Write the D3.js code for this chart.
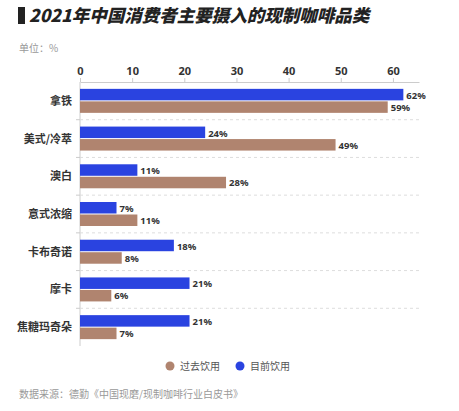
<!DOCTYPE html>
<html><head><meta charset="utf-8">
<script src="https://cdn.jsdelivr.net/npm/d3@7"></script>
<style>body{margin:0;background:#fff;font-family:"Noto Sans CJK SC","Noto Sans",sans-serif;}</style>
</head><body><svg></svg>
<script>
const width = 459, height = 411;
const categories = ["拿铁", "美式/冷萃", "澳白", "意式浓缩", "卡布奇诺", "摩卡", "焦糖玛奇朵"];
const current = [62, 24, 11, 7, 18, 21, 21];
const past = [59, 49, 28, 11, 8, 6, 7];
const ticks = [0, 10, 20, 30, 40, 50, 60];
const blue = "#2a43e0", brown = "#b0846f";

const svg = d3.select("svg").attr("width", width).attr("height", height);

svg.append("rect").attr("x", 18).attr("y", 7).attr("width", 7).attr("height", 17).attr("fill", "#222");
svg.append("text").attr("x", 29).attr("y", 22).text("2021年中国消费者主要摄入的现制咖啡品类")
    .attr("font-size", 17.5).attr("font-weight", 900).attr("font-style", "italic").attr("fill", "#222");
svg.append("text").attr("x", 19).attr("y", 52).text("单位：%").attr("font-size", 10).attr("fill", "#999");

const x = d3.scaleLinear().domain([0, 65]).range([80, 419]);
const y = d3.scaleBand().domain(categories).range([82, 346]);

svg.append("g").attr("transform", "translate(0,82)")
    .call(d3.axisTop(x).tickValues(ticks).tickSize(4).tickSizeOuter(0))
    .call(g => g.select(".domain").attr("stroke", "#ccc"))
    .call(g => g.selectAll(".tick line").attr("stroke", "#ccc"))
    .call(g => g.selectAll("text").attr("font-size", 11).attr("font-weight", "bold").attr("fill", "#333").attr("font-family", "Noto Sans"));

// left axis line and dashed separators
svg.append("line").attr("x1", 80).attr("x2", 80).attr("y1", 82).attr("y2", 346).attr("stroke", "#ccc");
categories.slice(1).forEach(c => {
    svg.append("line").attr("x1", 80).attr("x2", 419).attr("y1", y(c)).attr("y2", y(c))
        .attr("stroke", "#ddd").attr("stroke-dasharray", "3,3");
    svg.append("line").attr("x1", 76).attr("x2", 80).attr("y1", y(c)).attr("y2", y(c)).attr("stroke", "#ccc");
});

const bh = 12;
categories.forEach((c, i) => {
    const cy = y(c) + y.bandwidth() / 2;
    svg.append("text").attr("x", 72).attr("y", cy + 4).attr("text-anchor", "end")
        .text(c).attr("font-size", 11).attr("font-weight", "bold").attr("fill", "#333");
    svg.append("rect").attr("x", x(0)).attr("y", cy - bh).attr("width", x(current[i]) - x(0)).attr("height", bh - 0.5).attr("fill", blue);
    svg.append("rect").attr("x", x(0)).attr("y", cy + 0.5).attr("width", x(past[i]) - x(0)).attr("height", bh - 0.5).attr("fill", brown);
    svg.append("text").attr("x", x(current[i]) + 3).attr("y", cy - bh / 2 + 4).text(current[i] + "%")
        .attr("font-size", 9.5).attr("font-weight", "bold").attr("fill", "#333").attr("font-family", "Noto Sans");
    svg.append("text").attr("x", x(past[i]) + 3).attr("y", cy + bh / 2 + 4).text(past[i] + "%")
        .attr("font-size", 9.5).attr("font-weight", "bold").attr("fill", "#333").attr("font-family", "Noto Sans");
});

const legend = [{ name: "过去饮用", color: brown, x: 170 }, { name: "目前饮用", color: blue, x: 240 }];
legend.forEach(l => {
    svg.append("circle").attr("cx", l.x).attr("cy", 366).attr("r", 4.5).attr("fill", l.color);
    svg.append("text").attr("x", l.x + 10).attr("y", 370).text(l.name).attr("font-size", 10).attr("fill", "#555");
});

svg.append("text").attr("x", 19).attr("y", 398).text("数据来源：德勤《中国现磨/现制咖啡行业白皮书》")
    .attr("font-size", 10).attr("fill", "#999");
</script></body></html>
